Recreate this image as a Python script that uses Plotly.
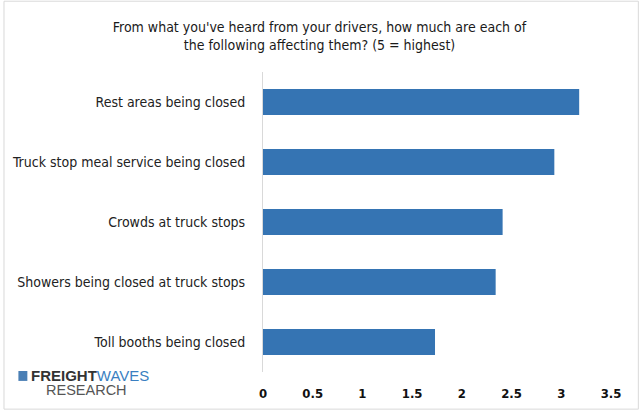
import plotly.graph_objects as go

# 数据
categories = ["Rest areas being closed",
              "Truck stop meal service being closed",
              "Crowds at truck stops",
              "Showers being closed at truck stops",
              "Toll booths being closed"]
scores = [3.18, 2.93, 2.41, 2.34, 1.73]
tick_vals = [0, 0.5, 1, 1.5, 2, 2.5, 3, 3.5]
tick_text = ["0", "0.5", "1", "1.5", "2", "2.5", "3", "3.5"]

title = ("From what you've heard from your drivers, how much are each of<br>"
         "the following affecting them? (5 = highest)")
font_family = "DejaVu Sans Condensed, sans-serif"

W, H = 639, 413
L, R, T, B = 261, 28, 72, 38
pw, ph = W - L - R, H - T - B


def px_x(x):
    # 像素 -> paper 坐标
    return (x - L) / pw


def px_y(y):
    return (H - B - y) / ph


fig = go.Figure(go.Bar(x=scores, y=categories, orientation="h",
                       marker_color="#3574B3", marker_line_width=0))

fig.update_layout(
    width=W, height=H,
    margin=dict(l=L, r=R, t=T, b=B),
    paper_bgcolor="white", plot_bgcolor="white",
    bargap=0.57,
    showlegend=False,
    font=dict(family=font_family, color="#222222"),
    title=dict(text=title, x=0.5, xanchor="center",
               yref="container", y=1 - 32 / H, yanchor="middle",
               font=dict(size=14, color="#1a1a1a")),
)

fig.update_xaxes(range=[0, 3.5], tickvals=tick_vals, ticktext=tick_text,
                 showgrid=False, zeroline=False, showline=False,
                 ticklabelstandoff=12,
                 tickfont=dict(size=13, color="#111111", weight="bold"),
                 fixedrange=True)
fig.update_yaxes(autorange="reversed", showgrid=False, showline=True,
                 linecolor="#d9d9d9", linewidth=1,
                 ticks="", ticklabelstandoff=14,
                 tickfont=dict(size=14, color="#222222"))

# 左下角 logo
fig.add_shape(type="rect", xref="paper", yref="paper",
              x0=px_x(15), x1=px_x(24), y0=px_y(384), y1=px_y(374),
              fillcolor="#4a7fb5", line_width=0)
fig.add_annotation(x=px_x(26), y=px_y(379), xref="paper", yref="paper",
                   text="<b>FREIGHT</b><span style='color:#3a7fc1'>WAVES</span>",
                   showarrow=False, xanchor="left", yanchor="middle",
                   font=dict(size=15, color="#333333", family="Liberation Sans, Arial"))
fig.add_annotation(x=px_x(41), y=px_y(393), xref="paper", yref="paper",
                   text="RESEARCH", showarrow=False, xanchor="left", yanchor="middle",
                   font=dict(size=14.5, color="#555555", family="Liberation Sans, Arial"))
# 外框
fig.add_shape(type="rect", xref="paper", yref="paper",
              x0=px_x(0.5), x1=px_x(W - 0.5), y0=px_y(H - 0.5), y1=px_y(0.5),
              line=dict(color="#d9d9d9", width=1))

fig.write_html("out.html", config={"displayModeBar": False},
               post_script="document.body.style.margin='0';")
